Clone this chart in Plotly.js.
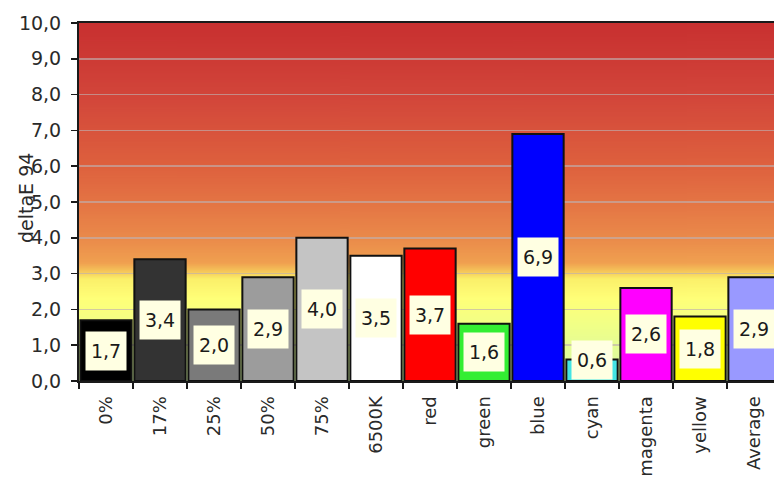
<!DOCTYPE html>
<html>
<head>
<meta charset="utf-8">
<script src="https://cdn.plot.ly/plotly-3.0.1.min.js"></script>
<style>
  html, body { margin: 0; padding: 0; overflow: hidden; background: #ffffff; }
  #chart { width: 774px; height: 480px; }
</style>
</head>
<body>
<div id="chart"></div>
<script>
// Colour accuracy per patch (deltaE 94)
const categories = ['0%', '17%', '25%', '50%', '75%', '6500K', 'red', 'green', 'blue', 'cyan', 'magenta', 'yellow', 'Average'];
const deltaE = [1.7, 3.4, 2.0, 2.9, 4.0, 3.5, 3.7, 1.6, 6.9, 0.6, 2.6, 1.8, 2.9];
const barColors = ['#000000', '#333333', '#7a7a7a', '#9c9c9c', '#c4c4c4', '#ffffff',
                   '#ff0000', '#33ee33', '#0000ff', '#44e4e4', '#ff00ff', '#ffff00', '#9999ff'];
const yTitle = 'deltaE 94';

const fmt = v => v.toFixed(1).replace('.', ',');

// Vertical background gradient for the plot area (top = 10, bottom = 0)
function gradientImage() {
  const c = document.createElement('canvas');
  c.width = 4; c.height = 400;
  const g = c.getContext('2d');
  const grad = g.createLinearGradient(0, 0, 0, 400);
  const stops = [
    [0.00, '#c83030'], [0.20, '#d2453a'], [0.40, '#de613e'], [0.50, '#e47444'],
    [0.60, '#ea8a4a'], [0.67, '#f0a050'], [0.695, '#f6c85a'], [0.715, '#fbf06a'],
    [0.77, '#ffff78'], [0.85, '#f0ff88'], [0.92, '#e2fc98'], [1.00, '#d8f8a8']
  ];
  stops.forEach(s => grad.addColorStop(s[0], s[1]));
  g.fillStyle = grad;
  g.fillRect(0, 0, 4, 400);
  return c.toDataURL('image/png');
}

const fontFamily = 'DejaVu Sans, Verdana, sans-serif';
const yTickFont = { family: fontFamily, size: 19, color: '#2a2a2a' };
const xTickFont = { family: fontFamily, size: 18, color: '#2a2a2a' };

const trace = {
  type: 'bar',
  x: categories,
  y: deltaE,
  marker: { color: barColors, line: { color: '#111111', width: 2 } },
  hoverinfo: 'x+y',
  cliponaxis: true
};

// Value labels in cream boxes centred in each bar
const labels = categories.map((c, i) => ({
  x: c,
  y: Math.max(deltaE[i] / 2, 0.58),
  xref: 'x', yref: 'y',
  text: fmt(deltaE[i]),
  showarrow: false,
  font: { family: fontFamily, size: 19, color: '#1a1a1a' },
  bgcolor: '#ffffe2',
  width: 30, height: 28,
  borderpad: 5,
  xanchor: 'center', yanchor: 'middle'
}));

labels.push({
  xref: 'paper', yref: 'paper',
  x: 0, y: 0.5, xshift: -66, yshift: 4,
  text: yTitle,
  textangle: -90,
  showarrow: false,
  font: { family: fontFamily, size: 19, color: '#2a2a2a' }
});

const layout = {
  width: 774,
  height: 480,
  margin: { l: 79, r: 0, t: 23, b: 99, pad: 0 },
  paper_bgcolor: '#ffffff',
  plot_bgcolor: 'rgba(0,0,0,0)',
  separators: ', ',
  bargap: 0.05,
  showlegend: false,
  xaxis: {
    type: 'category',
    range: [-0.5, 12.37],
    showline: true, linecolor: '#1a1a1a', linewidth: 2, mirror: true,
    ticks: 'outside', tickson: 'boundaries', ticklen: 6, tickwidth: 1.5, tickcolor: '#1a1a1a',
    tickangle: -90,
    ticklabelstandoff: 6,
    tickfont: xTickFont,
    showgrid: false,
    fixedrange: true
  },
  yaxis: {
    range: [0, 10],
    dtick: 1,
    tickformat: '.1f',
    showline: true, linecolor: '#1a1a1a', linewidth: 2,
    ticks: 'outside', ticklen: 6, tickwidth: 1.5, tickcolor: '#1a1a1a',
    ticklabelstandoff: 6,
    tickfont: yTickFont,
    showgrid: true, gridcolor: 'rgba(190,175,175,0.65)', gridwidth: 1.5,
    zeroline: false,
    fixedrange: true
  },
  images: [{
    source: gradientImage(),
    xref: 'paper', yref: 'paper',
    x: 0, y: 1, sizex: 1, sizey: 1,
    xanchor: 'left', yanchor: 'top',
    sizing: 'stretch',
    layer: 'below'
  }],
  annotations: labels
};

Plotly.newPlot('chart', [trace], layout, { displayModeBar: false, staticPlot: true });
</script>
</body>
</html>
